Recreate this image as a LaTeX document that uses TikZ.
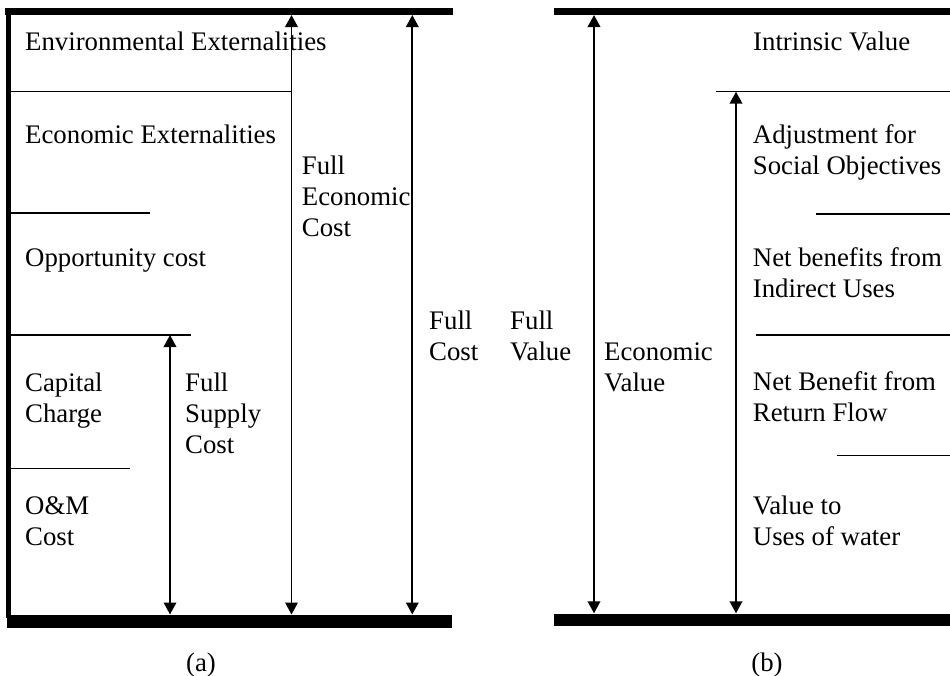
\documentclass[tikz,border=0pt]{standalone}
\usepackage{fontspec}
\setmainfont{Liberation Serif}
\usetikzlibrary{arrows.meta}
\newcommand\mlines[1]{\begin{tabular}[t]{@{}l@{}}#1\end{tabular}}
\begin{document}
\begin{tikzpicture}[x=1pt,y=-1pt,
  lbl/.style={anchor=base west, inner sep=0pt, font=\fontsize{26.8}{31}\selectfont},
  caplbl/.style={anchor=base, inner sep=0pt, font=\fontsize{26.8}{31}\selectfont},
  heavytop/.style={line width=6.7pt},
  heavyside/.style={line width=5.7pt},
  heavybottom/.style={line width=12.8pt},
  divider/.style={line width=1.4pt},
  dimarrow/.style={line width=1.9pt, {Triangle[length=12pt,width=12.5pt]}-{Triangle[length=12pt,width=12.5pt]}}
]
\useasboundingbox (0,0) rectangle (950,675);

% ---------- panel (a) ----------
\draw[heavytop] (5,11.7) -- (453,11.7);
\draw[heavyside] (8.5,8.4) -- (8.5,618);
\draw[heavybottom] (7.3,621.3) -- (451.7,621.3);

\draw[divider] (11,91.7) -- (291.5,91.7);
\draw[divider] (11,213) -- (150,213);
\draw[divider] (11,335) -- (190.7,335);
\draw[divider] (11,468.5) -- (130,468.5);

\coordinate (fsTop) at (170,335);
\coordinate (fsBot) at (170,614.5);
\coordinate (fecTop) at (291.5,15);
\coordinate (fecBot) at (291.5,614.5);
\coordinate (fcTop) at (412.3,15);
\coordinate (fcBot) at (412.3,614.5);
\draw[dimarrow] (fsTop) -- (fsBot);
\draw[dimarrow] (fecTop) -- (fecBot);
\draw[dimarrow] (fcTop) -- (fcBot);

\node[lbl] (env) at (25,50.7) {Environmental Externalities};
\node[lbl] (ecoext) at (25,143.3) {Economic Externalities};
\node[lbl] (opp) at (25,266.7) {Opportunity cost};
\node[lbl] (capchg) at (25,391) {\mlines{Capital\\Charge}};
\node[lbl] (om) at (25,514) {\mlines{O\&M\\Cost}};
\node[lbl] (fsc) at (185,391) {\mlines{Full\\Supply\\Cost}};
\node[lbl] (fec) at (301.7,174) {\mlines{Full\\Economic\\Cost}};
\node[lbl] (fc) at (429,329.5) {\mlines{Full\\Cost}};
\node[caplbl] (capa) at (201,671) {(a)};

% ---------- panel (b) ----------
\draw[heavytop] (554,11.7) -- (950,11.7);
\draw[heavybottom] (554,620) -- (950,620);

\draw[divider] (715.7,91.7) -- (950,91.7);
\draw[divider] (816,214) -- (950,214);
\draw[divider] (756,335) -- (950,335);
\draw[divider] (836.7,455.7) -- (950,455.7);

\coordinate (evTop) at (594,15);
\coordinate (evBot) at (594,613.3);
\coordinate (inTop) at (736,91.7);
\coordinate (inBot) at (736,613.3);
\draw[dimarrow] (evTop) -- (evBot);
\draw[dimarrow] (inTop) -- (inBot);

\node[lbl] (fv) at (510,329.5) {\mlines{Full\\Value}};
\node[lbl] (ev) at (604,360) {\mlines{Economic\\Value}};
\node[lbl] (iv) at (753,50) {Intrinsic Value};
\node[lbl] (adj) at (752.7,143.3) {\mlines{Adjustment for\\Social Objectives}};
\node[lbl] (nbi) at (752.7,266) {\mlines{Net benefits from\\Indirect Uses}};
\node[lbl] (nbr) at (752.7,390) {\mlines{Net Benefit from\\Return Flow}};
\node[lbl] (vu) at (752.7,514) {\mlines{Value to\\Uses of water}};
\node[caplbl] (capb) at (767,671) {(b)};
\end{tikzpicture}
\end{document}
